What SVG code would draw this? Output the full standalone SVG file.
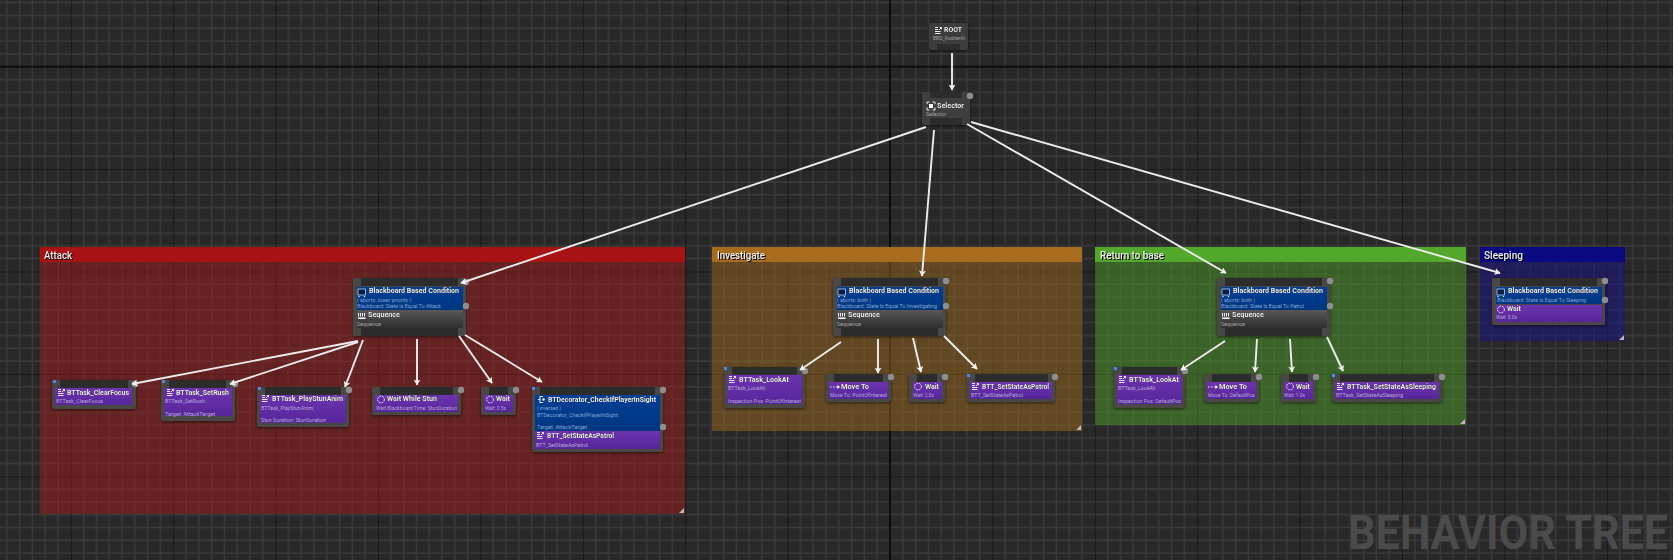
<svg xmlns="http://www.w3.org/2000/svg" width="1673" height="560" viewBox="0 0 1673 560">
<style>
text{font-family:Roboto,"Liberation Sans",sans-serif}
.t{font-size:8px;font-weight:700;fill:#f2f2f2;filter:drop-shadow(.8px .8px 0 #000)}
.s{font-size:5.6px;fill:#b9a8d8}
.sb{font-size:5.6px;fill:#84a6d6}
.sg{font-size:5.6px;fill:#a0a0a0}
.c{font-size:11.5px;font-weight:500;fill:#f0f0f0;filter:drop-shadow(1px 1px 0 #000)}
.fr{fill:#4a4846;filter:drop-shadow(0 1px 1.5px rgba(0,0,0,.55))}
.bar{fill:#2c2c2c}
.p{fill:url(#pu)}
.b{fill:url(#bl)}
.g{fill:url(#gr)}
.dot{fill:#8e8e8e}
.blue{fill:#4a88f0}
.ln{stroke:#ececec;stroke-width:1.9;fill:none;marker-end:url(#ar)}
.ic{fill:none;stroke:#fff;stroke-width:.9}
.icf{fill:#fff}
.rz{fill:#b9b9b9}
</style>
<defs>
<pattern id="grid" patternUnits="userSpaceOnUse" width="102.4" height="102.4" patternTransform="translate(890 66.7)">
<rect width="102.4" height="102.4" fill="#282828"/>
<path d="M12.8 0V102.4M25.6 0V102.4M38.4 0V102.4M51.2 0V102.4M64 0V102.4M76.8 0V102.4M89.6 0V102.4M0 12.8H102.4M0 25.6H102.4M0 38.4H102.4M0 51.2H102.4M0 64H102.4M0 76.8H102.4M0 89.6H102.4" stroke="#3a3a3a" stroke-width="1.5"/>
<path d="M0 0V102.4M0 0H102.4" stroke="#151515" stroke-width="1.6"/>
</pattern>
<linearGradient id="pu" x1="0" y1="0" x2="0" y2="1"><stop offset="0" stop-color="#6d33b0"/><stop offset="1" stop-color="#56269a"/></linearGradient>
<linearGradient id="bl" x1="0" y1="0" x2="0" y2="1"><stop offset="0" stop-color="#003f96"/><stop offset="1" stop-color="#00367f"/></linearGradient>
<linearGradient id="gr" x1="0" y1="0" x2="0" y2="1"><stop offset="0" stop-color="#585858"/><stop offset="1" stop-color="#2f2f2f"/></linearGradient>
<marker id="ar" markerUnits="userSpaceOnUse" markerWidth="8" markerHeight="8" refX="5.5" refY="3.5" orient="auto"><path d="M0 0L6 3.5L0 7L1.5 3.5Z" fill="#f2f2f2"/></marker>
<g id="i-task"><g transform="translate(0 -2)"><path class="ic" d="M0 0.5H3M0 2.5H3M0 4.5H5.5M0 6.5H5.5"/><path class="ic" d="M4 3L6.5 .5M4.8 .5H6.5V2.2"/></g></g>
<g id="i-wait"><circle class="ic" cx="4" cy="4" r="3.4" stroke-dasharray="1.8 1"/></g>
<g id="i-seq"><path class="ic" d="M0.5 0V3.5M2.5 0V3.5M4.5 0V3.5M6.5 0V3.5"/><rect class="icf" x="0" y="4.5" width="7.5" height="1.5"/></g>
<g id="i-bb"><rect x="0" y="0" width="7.5" height="6" fill="#0a1d42" stroke="#dbe4f6" stroke-width=".7"/><circle cx="1" cy="7.5" r=".7" fill="#fff"/><circle cx="6.500" cy="7.5" r=".7" fill="#fff"/></g>
<g id="i-move"><path class="ic" d="M0 3H1.500M3 3H4.500M6 3H8"/><path class="icf" d="M7.500 1L10 3L7.500 5Z"/></g>
<g id="i-sel"><path class="ic" stroke-width="1.2" d="M0 2V0H2.500M5.500 0H8V2M8 5.500V8H5.500M2.500 8H0V5.500"/><rect class="icf" x="2" y="2" width="4" height="4"/></g>
<g id="i-dec"><path class="ic" d="M2 0V7M0 3.500H2M2 0.500H5M2 6.500H5"/><circle class="icf" cx="5.500" cy="3.500" r="1.200"/></g>
</defs>
<rect id="background" width="1673" height="560" fill="url(#grid)"/>
<path d="M890 0V560M0 66.7H1673" stroke="#0d0d0d" stroke-width="1.8" fill="none"/>

<g id="comment-attack"><rect x="40" y="247" width="645" height="267" fill="#b01a1a" fill-opacity=".45"/><rect x="40" y="247" width="645" height="15" fill="#a81414"/><path class="rz" d="M679 513L684 508V513Z"/><text class="c" x="44" y="259" textLength="28" lengthAdjust="spacingAndGlyphs">Attack</text></g>
<g id="comment-investigate"><rect x="712" y="247" width="370" height="184" fill="#a86c1c" fill-opacity=".45"/><rect x="712" y="247" width="370" height="15" fill="#a86c1c"/><path class="rz" d="M1076 430L1081 425V430Z"/><text class="c" x="717" y="259" textLength="48" lengthAdjust="spacingAndGlyphs">Investigate</text></g>
<g id="comment-return"><rect x="1095" y="247" width="371" height="178" fill="#52a82a" fill-opacity=".45"/><rect x="1095" y="247" width="371" height="15" fill="#52a82a"/><path class="rz" d="M1460 424L1465 419V424Z"/><text class="c" x="1100" y="259" textLength="64" lengthAdjust="spacingAndGlyphs">Return to base</text></g>
<g id="comment-sleeping"><rect x="1480" y="247" width="145" height="94" fill="#1a0f8c" fill-opacity=".5"/><rect x="1480" y="247" width="145" height="15" fill="#0a0a80"/><path class="rz" d="M1619 340L1624 335V340Z"/><text class="c" x="1484" y="259" textLength="39" lengthAdjust="spacingAndGlyphs">Sleeping</text></g>

<text id="watermark" transform="translate(1348 548.500) scale(.877 1)" font-size="49" font-weight="700" fill="#4b4b4b" textLength="365" lengthAdjust="spacingAndGlyphs">BEHAVIOR TREE</text>

<g id="node-root"><rect class="fr" x="929" y="23" width="39" height="27" rx="2" style="fill:#3c3c3c"/><rect class="bar" x="937" y="44" width="23" height="6"/><use href="#i-task" x="935" y="29"/><text class="t" x="944" y="32" textLength="18" lengthAdjust="spacingAndGlyphs">ROOT</text><text class="sg" x="933" y="40" textLength="32" lengthAdjust="spacingAndGlyphs">BBD_RusherAI</text></g>
<g id="node-selector"><rect class="fr" x="922" y="92" width="48" height="33" rx="2" style="fill:#3f3f3f"/><rect class="bar" x="930" y="92" width="32" height="6"/><rect class="bar" x="930" y="118" width="32" height="7"/><use href="#i-sel" x="927" y="102"/><text class="t" x="937" y="107.500" textLength="27" lengthAdjust="spacingAndGlyphs">Selector</text><text class="sg" x="926" y="116" textLength="20" lengthAdjust="spacingAndGlyphs">Selector</text><circle class="dot" cx="970" cy="96" r="3.2"/></g>

<g id="node-attack-sequence"><rect class="fr" x="353" y="278" width="113" height="58" rx="2"/><rect class="bar" x="361" y="278" width="97" height="8"/><rect class="b" x="357" y="287" width="106" height="23"/><rect class="g" x="357" y="310" width="106" height="18"/><rect class="bar" x="361" y="328" width="97" height="8"/><use href="#i-bb" x="358" y="289"/><text class="t" x="369" y="293" textLength="90" lengthAdjust="spacingAndGlyphs">Blackboard Based Condition</text><text class="sb" x="357" y="302" textLength="54" lengthAdjust="spacingAndGlyphs">( aborts: lower priority )</text><text class="sb" x="357" y="308" textLength="84" lengthAdjust="spacingAndGlyphs">Blackboard: State Is Equal To Attack</text><use href="#i-seq" x="358" y="313"/><text class="t" x="368" y="317" textLength="32" lengthAdjust="spacingAndGlyphs">Sequence</text><text class="sg" x="357" y="326" textLength="24" lengthAdjust="spacingAndGlyphs">Sequence</text><circle class="dot" cx="466" cy="282" r="3.2"/><circle class="dot" cx="466" cy="306" r="3.2"/></g>
<g id="node-clearfocus"><rect class="fr" x="52" y="380" width="84" height="29" rx="2"/><rect class="bar" x="60" y="380" width="68" height="8"/><rect class="p" x="55" y="388" width="77" height="17"/><rect class="blue" x="53" y="380" width="3" height="3"/><use href="#i-task" x="58" y="391"/><text class="t" x="67" y="395" textLength="62" lengthAdjust="spacingAndGlyphs">BTTask_ClearFocus</text><text class="s" x="56" y="403" textLength="47" lengthAdjust="spacingAndGlyphs">BTTask_ClearFocus</text><circle class="dot" cx="135" cy="384" r="3.2"/></g>
<g id="node-setrush"><rect class="fr" x="161" y="380" width="74" height="41" rx="2"/><rect class="bar" x="169" y="380" width="57" height="8"/><rect class="p" x="164" y="388" width="68" height="28"/><rect class="blue" x="162" y="380" width="3" height="3"/><use href="#i-task" x="167" y="391"/><text class="t" x="176" y="395" textLength="53" lengthAdjust="spacingAndGlyphs">BTTask_SetRush</text><text class="s" x="165" y="403" textLength="41" lengthAdjust="spacingAndGlyphs">BTTask_SetRush:</text><text class="s" x="165" y="415.500" textLength="50" lengthAdjust="spacingAndGlyphs">Target: AttackTarget</text><circle class="dot" cx="235" cy="384" r="3.2"/></g>
<g id="node-playstun"><rect class="fr" x="257" y="387" width="92" height="40" rx="2"/><rect class="bar" x="265" y="387" width="76" height="8"/><rect class="p" x="260" y="395" width="86" height="28"/><rect class="blue" x="258" y="387" width="3" height="3"/><use href="#i-task" x="262" y="397"/><text class="t" x="272" y="401" textLength="71" lengthAdjust="spacingAndGlyphs">BTTask_PlayStunAnim</text><text class="s" x="261" y="410" textLength="53" lengthAdjust="spacingAndGlyphs">BTTask_PlayStunAnim:</text><text class="s" x="261" y="422" textLength="65" lengthAdjust="spacingAndGlyphs">Stun Duration: StunDuration</text><circle class="dot" cx="349" cy="390" r="3.2"/></g>
<g id="node-waitstun"><rect class="fr" x="372" y="387" width="89" height="28" rx="2"/><rect class="bar" x="380" y="387" width="73" height="8"/><rect class="p" x="375" y="395" width="83" height="17"/><use href="#i-wait" x="377" y="395.500"/><text class="t" x="387" y="401" textLength="50" lengthAdjust="spacingAndGlyphs">Wait While Stun</text><text class="s" x="376" y="410" textLength="81" lengthAdjust="spacingAndGlyphs">Wait Blackboard Time: StunDuration</text><circle class="dot" cx="461" cy="390" r="3.2"/></g>
<g id="node-wait-attack"><rect class="fr" x="481" y="387" width="35" height="28" rx="2"/><rect class="bar" x="489" y="387" width="19" height="8"/><rect class="p" x="484" y="395" width="29" height="17"/><use href="#i-wait" x="486" y="395.500"/><text class="t" x="496" y="401" textLength="14" lengthAdjust="spacingAndGlyphs">Wait</text><text class="s" x="485" y="410" textLength="21" lengthAdjust="spacingAndGlyphs">Wait: 0.5s</text><circle class="dot" cx="516" cy="390" r="3.2"/></g>
<g id="node-checkplayer"><rect class="fr" x="532" y="387" width="131" height="65" rx="2"/><rect class="bar" x="540" y="387" width="115" height="8"/><rect class="b" x="535" y="395" width="125" height="36"/><rect class="p" x="535" y="431" width="125" height="18"/><rect class="blue" x="532" y="387" width="3" height="3"/><use href="#i-dec" x="538" y="396"/><text class="t" x="548" y="402" textLength="108" lengthAdjust="spacingAndGlyphs">BTDecorator_CheckIfPlayerInSight</text><text class="sb" x="537" y="410" textLength="24" lengthAdjust="spacingAndGlyphs">( inversed )</text><text class="sb" x="537" y="417" textLength="82" lengthAdjust="spacingAndGlyphs">BTDecorator_CheckIfPlayerInSight:</text><text class="sb" x="537" y="429" textLength="50" lengthAdjust="spacingAndGlyphs">Target: AttackTarget</text><use href="#i-task" x="537" y="434"/><text class="t" x="547" y="438" textLength="67" lengthAdjust="spacingAndGlyphs">BTT_SetStateAsPatrol</text><text class="s" x="536" y="447" textLength="52" lengthAdjust="spacingAndGlyphs">BTT_SetStateAsPatrol</text><circle class="dot" cx="663" cy="390" r="3.2"/><circle class="dot" cx="663" cy="427" r="3.2"/></g>

<g id="node-investigate-sequence"><rect class="fr" x="833" y="278" width="113" height="58" rx="2"/><rect class="bar" x="841" y="278" width="97" height="8"/><rect class="b" x="837" y="287" width="106" height="23"/><rect class="g" x="837" y="310" width="106" height="18"/><rect class="bar" x="841" y="328" width="97" height="8"/><use href="#i-bb" x="838" y="289"/><text class="t" x="849" y="293" textLength="90" lengthAdjust="spacingAndGlyphs">Blackboard Based Condition</text><text class="sb" x="837" y="302" textLength="34" lengthAdjust="spacingAndGlyphs">( aborts: both )</text><text class="sb" x="837" y="308" textLength="100" lengthAdjust="spacingAndGlyphs">Blackboard: State Is Equal To Investigating</text><use href="#i-seq" x="838" y="313"/><text class="t" x="848" y="317" textLength="32" lengthAdjust="spacingAndGlyphs">Sequence</text><text class="sg" x="837" y="326" textLength="24" lengthAdjust="spacingAndGlyphs">Sequence</text><circle class="dot" cx="946" cy="281" r="3.2"/><circle class="dot" cx="946" cy="306" r="3.2"/></g>
<g id="node-lookat-investigate"><rect class="fr" x="724" y="367" width="81" height="41" rx="2"/><rect class="bar" x="732" y="367" width="65" height="8"/><rect class="p" x="727" y="375" width="75" height="29"/><rect class="blue" x="724" y="367" width="3" height="3"/><use href="#i-task" x="729" y="378"/><text class="t" x="739" y="382" textLength="50" lengthAdjust="spacingAndGlyphs">BTTask_LookAt</text><text class="s" x="728" y="390" textLength="38" lengthAdjust="spacingAndGlyphs">BTTask_LookAt:</text><text class="s" x="728" y="403" textLength="73" lengthAdjust="spacingAndGlyphs">Inspection Pos: PointOfInterest</text><circle class="dot" cx="805" cy="371" r="3.2"/></g>
<g id="node-moveto-investigate"><rect class="fr" x="826" y="374" width="65" height="28" rx="2"/><rect class="bar" x="834" y="374" width="49" height="8"/><rect class="p" x="829" y="382" width="59" height="17"/><use href="#i-move" x="830" y="384"/><text class="t" x="841" y="389" textLength="28" lengthAdjust="spacingAndGlyphs">Move To</text><text class="s" x="830" y="397" textLength="57" lengthAdjust="spacingAndGlyphs">Move To: PointOfInterest</text><circle class="dot" cx="891" cy="377" r="3.2"/></g>
<g id="node-wait-investigate"><rect class="fr" x="909" y="374" width="36" height="28" rx="2"/><rect class="bar" x="917" y="374" width="20" height="8"/><rect class="p" x="913" y="382" width="29" height="17"/><use href="#i-wait" x="914" y="382.500"/><text class="t" x="925" y="389" textLength="14" lengthAdjust="spacingAndGlyphs">Wait</text><text class="s" x="913" y="397" textLength="21" lengthAdjust="spacingAndGlyphs">Wait: 2.0s</text><circle class="dot" cx="945" cy="377" r="3.2"/></g>
<g id="node-patrol"><rect class="fr" x="967" y="374" width="88" height="28" rx="2"/><rect class="bar" x="975" y="374" width="73" height="8"/><rect class="p" x="970" y="382" width="82" height="17"/><rect class="blue" x="967" y="374" width="3" height="3"/><use href="#i-task" x="972" y="385"/><text class="t" x="982" y="389" textLength="67" lengthAdjust="spacingAndGlyphs">BTT_SetStateAsPatrol</text><text class="s" x="971" y="397" textLength="52" lengthAdjust="spacingAndGlyphs">BTT_SetStateAsPatrol</text><circle class="dot" cx="1055" cy="377" r="3.2"/></g>

<g id="node-return-sequence"><rect class="fr" x="1217" y="278" width="113" height="58" rx="2"/><rect class="bar" x="1225" y="278" width="97" height="8"/><rect class="b" x="1221" y="287" width="106" height="23"/><rect class="g" x="1221" y="310" width="106" height="18"/><rect class="bar" x="1225" y="328" width="97" height="8"/><use href="#i-bb" x="1222" y="289"/><text class="t" x="1233" y="293" textLength="90" lengthAdjust="spacingAndGlyphs">Blackboard Based Condition</text><text class="sb" x="1221" y="302" textLength="34" lengthAdjust="spacingAndGlyphs">( aborts: both )</text><text class="sb" x="1221" y="308" textLength="83" lengthAdjust="spacingAndGlyphs">Blackboard: State Is Equal To Patrol</text><use href="#i-seq" x="1222" y="313"/><text class="t" x="1232" y="317" textLength="32" lengthAdjust="spacingAndGlyphs">Sequence</text><text class="sg" x="1221" y="326" textLength="24" lengthAdjust="spacingAndGlyphs">Sequence</text><circle class="dot" cx="1330" cy="281" r="3.2"/><circle class="dot" cx="1330" cy="306" r="3.2"/></g>
<g id="node-lookat-return"><rect class="fr" x="1114" y="367" width="71" height="41" rx="2"/><rect class="bar" x="1122" y="367" width="55" height="8"/><rect class="p" x="1117" y="375" width="65" height="29"/><rect class="blue" x="1114" y="367" width="3" height="3"/><use href="#i-task" x="1119" y="378"/><text class="t" x="1129" y="382" textLength="50" lengthAdjust="spacingAndGlyphs">BTTask_LookAt</text><text class="s" x="1118" y="390" textLength="38" lengthAdjust="spacingAndGlyphs">BTTask_LookAt:</text><text class="s" x="1118" y="403" textLength="63" lengthAdjust="spacingAndGlyphs">Inspection Pos: DefaultPos</text><circle class="dot" cx="1185" cy="371" r="3.2"/></g>
<g id="node-moveto-return"><rect class="fr" x="1204" y="374" width="55" height="28" rx="2"/><rect class="bar" x="1212" y="374" width="39" height="8"/><rect class="p" x="1207" y="382" width="49" height="17"/><use href="#i-move" x="1208" y="384"/><text class="t" x="1219" y="389" textLength="28" lengthAdjust="spacingAndGlyphs">Move To</text><text class="s" x="1208" y="397" textLength="47" lengthAdjust="spacingAndGlyphs">Move To: DefaultPos</text><circle class="dot" cx="1259" cy="377" r="3.2"/></g>
<g id="node-wait-return"><rect class="fr" x="1281" y="374" width="35" height="28" rx="2"/><rect class="bar" x="1289" y="374" width="19" height="8"/><rect class="p" x="1284" y="382" width="29" height="17"/><use href="#i-wait" x="1286" y="382.500"/><text class="t" x="1296" y="389" textLength="14" lengthAdjust="spacingAndGlyphs">Wait</text><text class="s" x="1284" y="397" textLength="21" lengthAdjust="spacingAndGlyphs">Wait: 1.0s</text><circle class="dot" cx="1316" cy="377" r="3.2"/></g>
<g id="node-setsleeping"><rect class="fr" x="1332" y="374" width="110" height="28" rx="2"/><rect class="bar" x="1340" y="374" width="94" height="8"/><rect class="p" x="1335" y="382" width="104" height="17"/><rect class="blue" x="1332" y="374" width="3" height="3"/><use href="#i-task" x="1337" y="385"/><text class="t" x="1347" y="389" textLength="89" lengthAdjust="spacingAndGlyphs">BTTask_SetStateAsSleeping</text><text class="s" x="1336" y="397" textLength="67" lengthAdjust="spacingAndGlyphs">BTTask_SetStateAsSleeping</text><circle class="dot" cx="1442" cy="377" r="3.2"/></g>

<g id="node-sleeping-wait"><rect class="fr" x="1492" y="278" width="113" height="47" rx="2"/><rect class="bar" x="1500" y="278" width="97" height="8"/><rect class="b" x="1496" y="287" width="106" height="17"/><rect class="p" x="1496" y="305" width="106" height="17"/><use href="#i-bb" x="1497" y="289"/><text class="t" x="1508" y="293" textLength="90" lengthAdjust="spacingAndGlyphs">Blackboard Based Condition</text><text class="sb" x="1497" y="302" textLength="89" lengthAdjust="spacingAndGlyphs">Blackboard: State Is Equal To Sleeping</text><use href="#i-wait" x="1497" y="305.500"/><text class="t" x="1507" y="311" textLength="14" lengthAdjust="spacingAndGlyphs">Wait</text><text class="s" x="1496" y="319" textLength="21" lengthAdjust="spacingAndGlyphs">Wait: 5.0s</text><circle class="dot" cx="1605" cy="281" r="3.2"/><circle class="dot" cx="1605" cy="300" r="3.2"/></g>

<g id="connectors">
<path class="ln" d="M952 53L952 90"/>
<path class="ln" d="M926 127L461 283"/>
<path class="ln" d="M934 130L922 276"/>
<path class="ln" d="M967 124L1226 273"/>
<path class="ln" d="M971 122L1500 273"/>
<path class="ln" d="M358 341L132 384"/>
<path class="ln" d="M358 342L230 384"/>
<path class="ln" d="M363 340L345 387"/>
<path class="ln" d="M417 339L417 385"/>
<path class="ln" d="M459 336L492 383"/>
<path class="ln" d="M465 335L542 382"/>
<path class="ln" d="M841 342L800 370"/>
<path class="ln" d="M878 339L878 373"/>
<path class="ln" d="M913 338L921 372"/>
<path class="ln" d="M944 336L977 369"/>
<path class="ln" d="M1225 341L1181 370"/>
<path class="ln" d="M1257 339L1255 372"/>
<path class="ln" d="M1290 339L1292 372"/>
<path class="ln" d="M1327 337L1343 371"/>
</g>
</svg>
